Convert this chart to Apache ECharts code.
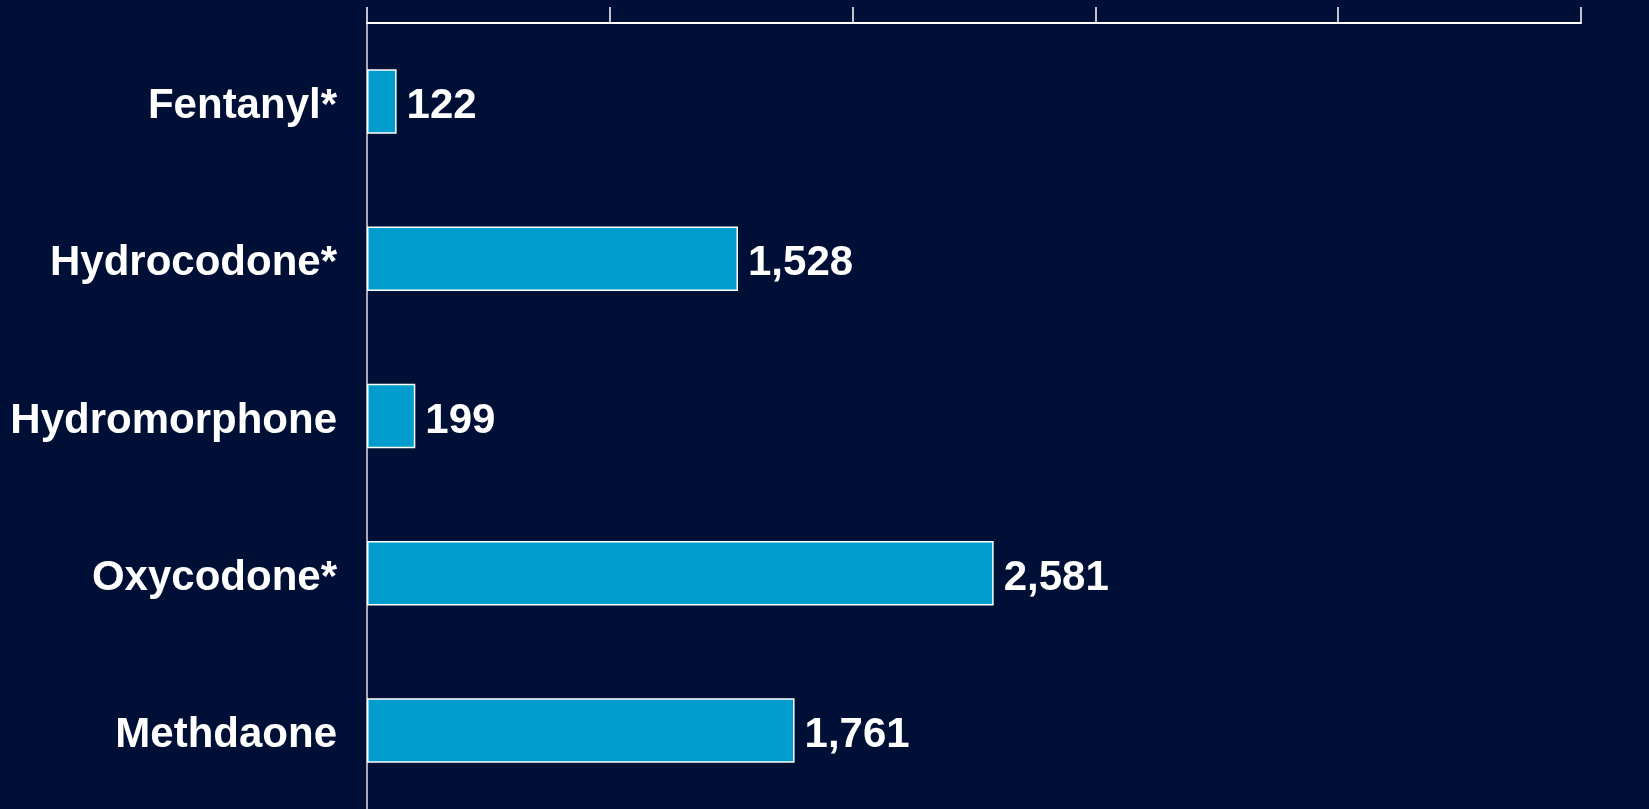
<!DOCTYPE html>
<html>
<head>
<meta charset="utf-8">
<script src="https://cdn.jsdelivr.net/npm/echarts@6/dist/echarts.min.js"></script>
<style>
html,body{margin:0;padding:0;background:#000f35;}
#chart{width:1649px;height:809px;}
</style>
</head>
<body>
<div id="chart"></div>
<script>
// drug names, top to bottom
var drugs = ['Fentanyl*', 'Hydrocodone*', 'Hydromorphone', 'Oxycodone*', 'Methdaone'];
var counts = [122, 1528, 199, 2581, 1761];
var axisMax = 5000;
var axisStep = 1000;

var labelFont = "'Liberation Sans', Arial, sans-serif";

var myChart = echarts.init(document.getElementById('chart'));
var option = {
    backgroundColor: '#000f35',
    animation: false,
    grid: {
        left: 367,
        right: 68,
        top: 23,
        bottom: 0
    },
    xAxis: {
        type: 'value',
        position: 'top',
        min: 0,
        max: axisMax,
        interval: axisStep,
        axisLine: { show: true, lineStyle: { color: '#ffffff', width: 2 } },
        axisTick: { show: true, inside: false, length: 16, lineStyle: { color: '#ffffff', width: 1.5 } },
        axisLabel: { show: false },
        splitLine: { show: false }
    },
    yAxis: {
        type: 'category',
        inverse: true,
        data: drugs,
        axisLine: { show: true, lineStyle: { color: '#e0e0e0', width: 1.5 } },
        axisTick: { show: false },
        axisLabel: {
            margin: 30,
            formatter: function (v) {
                return '{n|' + v + '}';
            },
            rich: {
                n: {
                    color: '#ffffff',
                    fontSize: 42,
                    fontWeight: 'bold',
                    fontFamily: labelFont,
                    padding: [10, 0, 0, 0]
                }
            }
        }
    },
    series: [{
        type: 'bar',
        data: counts,
        barCategoryGap: '59%',
        itemStyle: {
            color: '#009ccc',
            borderColor: '#ffffff',
            borderWidth: 1.5
        },
        label: {
            show: true,
            position: 'right',
            distance: 10,
            offset: [0, 5],
            color: '#ffffff',
            fontSize: 42,
            fontWeight: 'bold',
            fontFamily: labelFont,
            formatter: function (p) {
                return p.value.toLocaleString('en-US');
            }
        }
    }]
};
myChart.setOption(option);
</script>
</body>
</html>
